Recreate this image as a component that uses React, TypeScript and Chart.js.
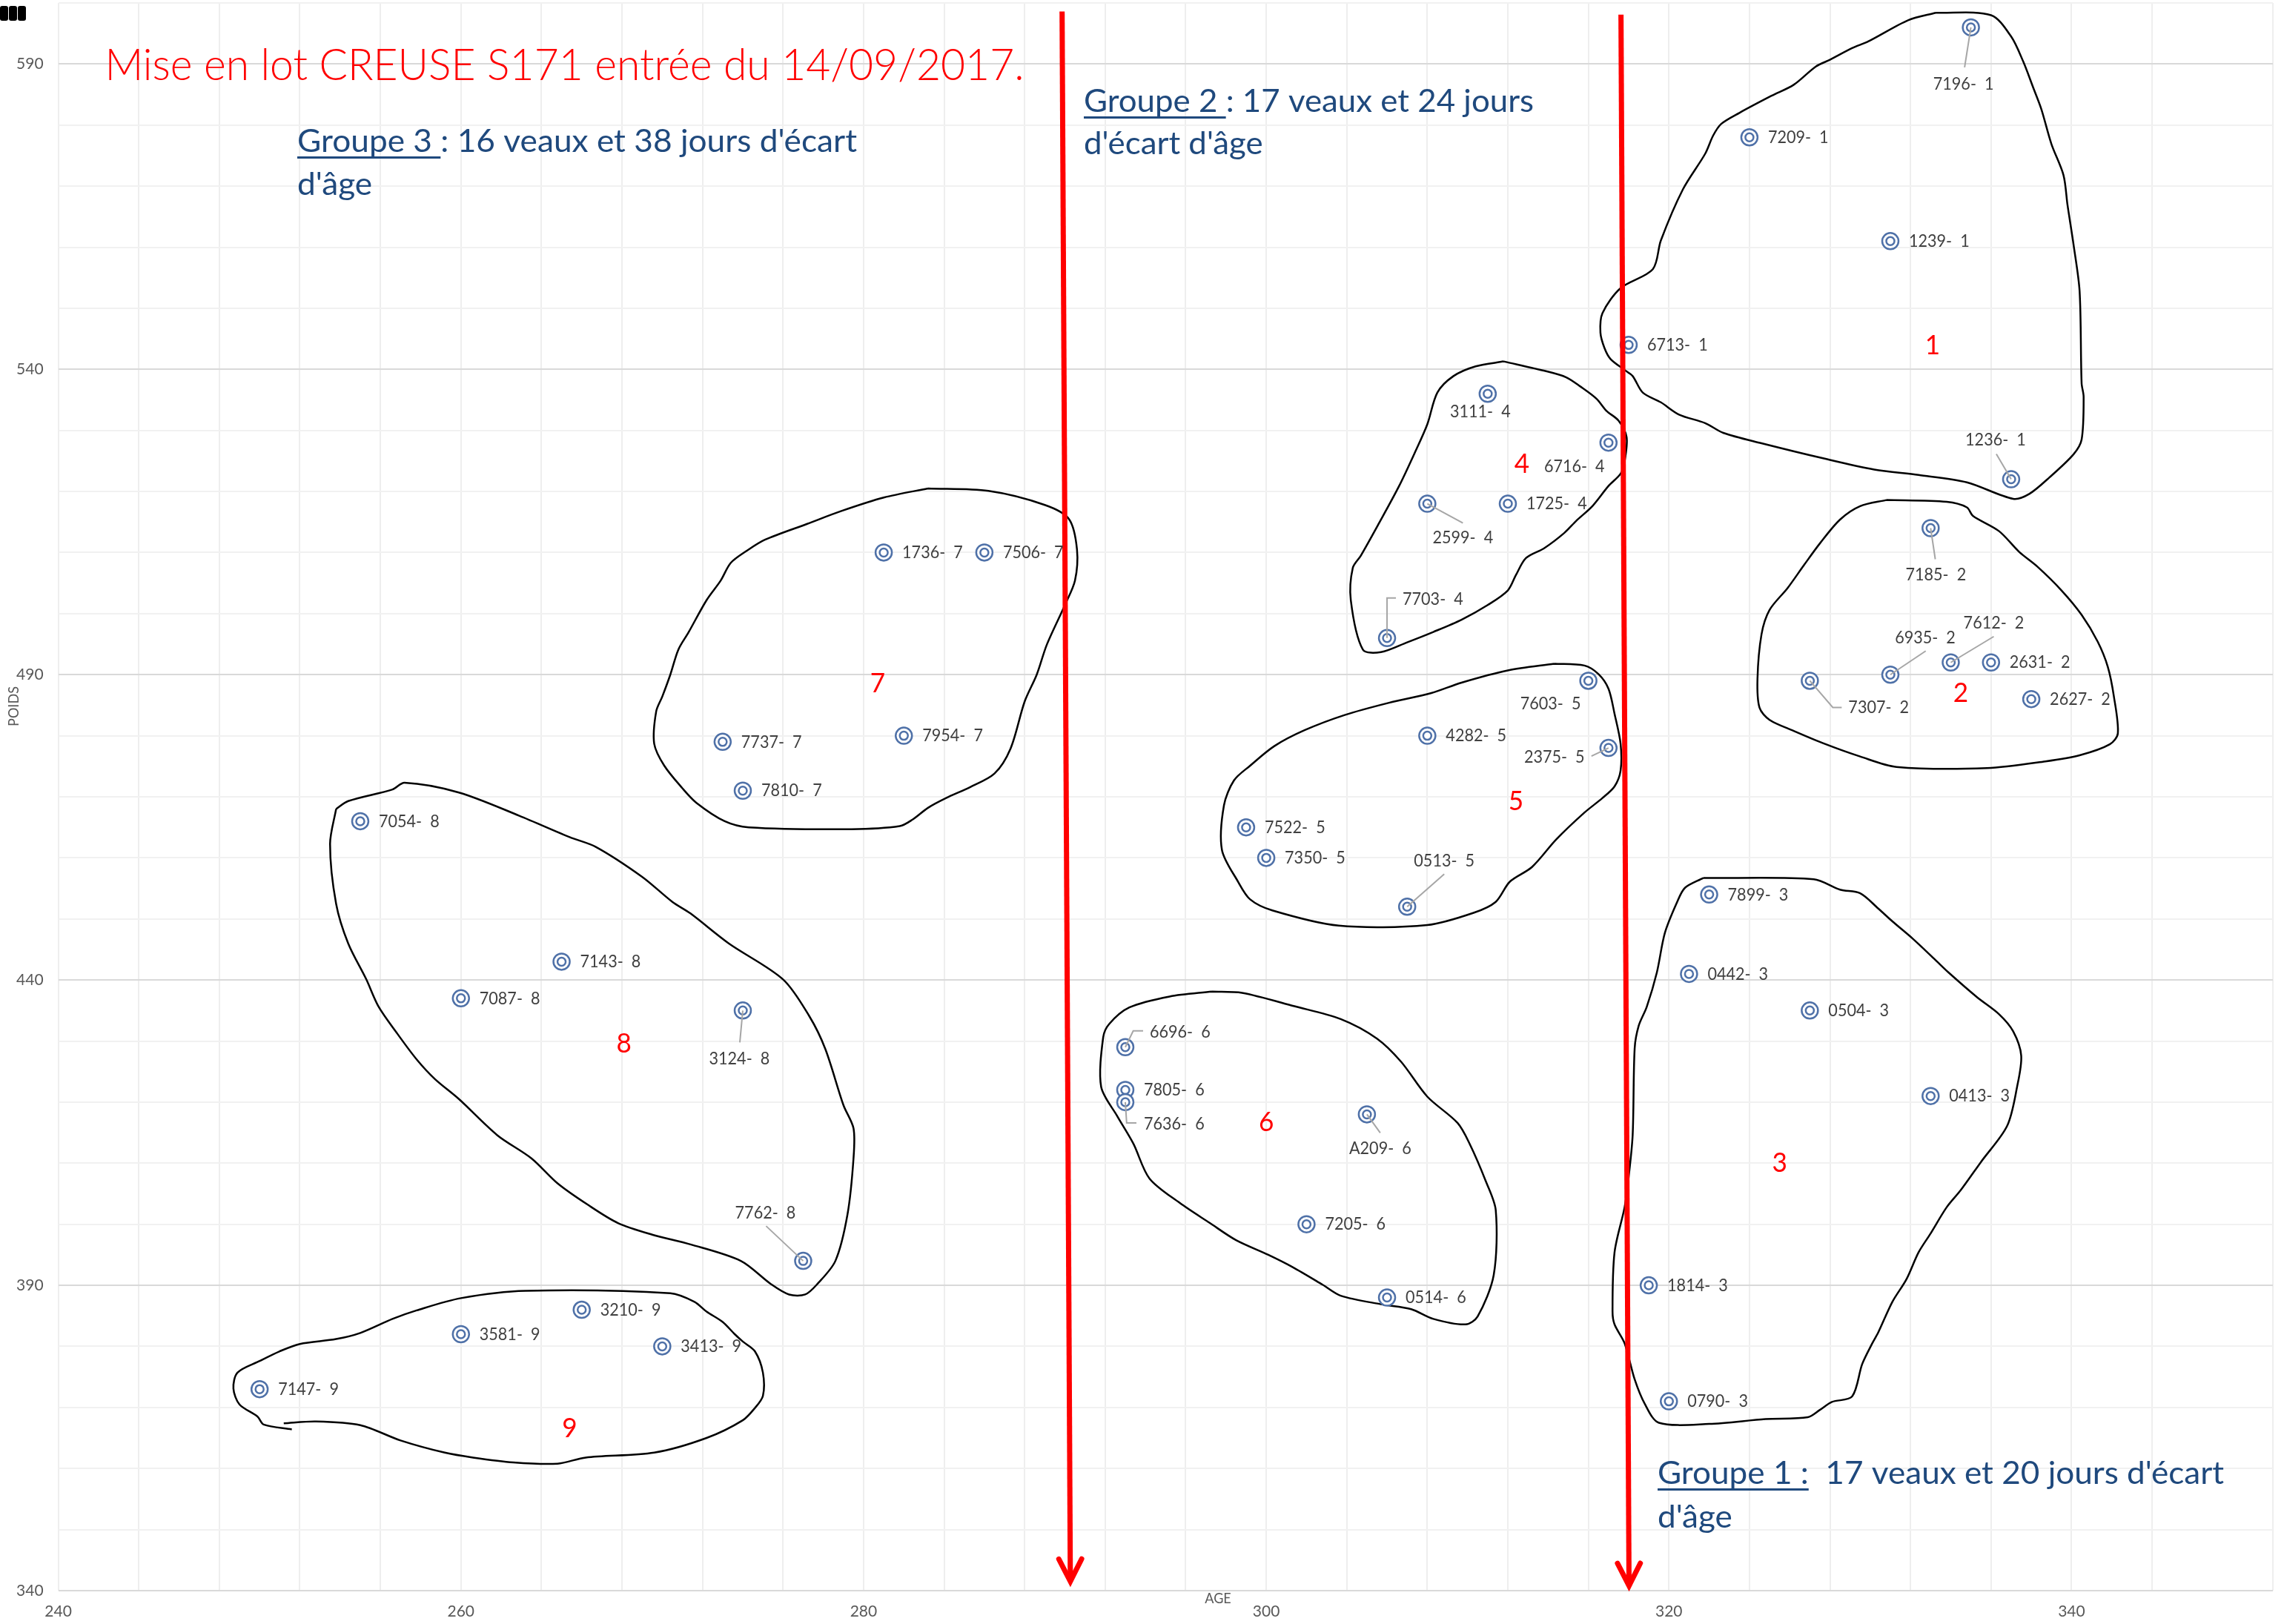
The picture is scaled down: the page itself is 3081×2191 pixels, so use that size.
import React, { useEffect, useRef } from 'react';
import { Chart, registerables } from 'chart.js';

Chart.register(...registerables);

// ---------------- data ----------------
const animalIds = [
  '7196', '7209', '1239', '6713', '1236',
  '7185', '6935', '7612', '2631', '2627', '7307',
  '7899', '0442', '0504', '0413', '1814', '0790',
  '3111', '6716', '1725', '2599', '7703',
  '7603', '4282', '2375', '7522', '7350', '0513',
  '6696', '7805', '7636', 'A209', '7205', '0514',
  '1736', '7506', '7737', '7954', '7810',
  '7054', '7143', '7087', '3124', '7762',
  '3210', '3581', '3413', '7147',
];
const animalLots = [
  1, 1, 1, 1, 1,
  2, 2, 2, 2, 2, 2,
  3, 3, 3, 3, 3, 3,
  4, 4, 4, 4, 4,
  5, 5, 5, 5, 5, 5,
  6, 6, 6, 6, 6, 6,
  7, 7, 7, 7, 7,
  8, 8, 8, 8, 8,
  9, 9, 9, 9,
];
const ages = [
  335, 324, 331, 318, 337,
  333, 331, 334, 336, 338, 327,
  322, 321, 327, 333, 319, 320,
  311, 317, 312, 308, 306,
  316, 308, 317, 299, 300, 307,
  293, 293, 293, 305, 302, 306,
  281, 286, 273, 282, 274,
  255, 265, 260, 274, 277,
  266, 260, 270, 250,
];
const poids = [
  596, 578, 561, 544, 522,
  514, 490, 492, 492, 486, 489,
  454, 441, 435, 421, 390, 371,
  536, 528, 518, 518, 496,
  489, 480, 478, 465, 460, 452,
  429, 422, 420, 418, 400, 388,
  510, 510, 479, 480, 471,
  466, 443, 437, 435, 394,
  386, 382, 380, 373,
];

const xTickLabels = [240, 260, 280, 300, 320, 340];
const yTickLabels = [340, 390, 440, 490, 540, 590];

// hand-drawn outlines of each lot, in (AGE, POIDS) units
const outlineLot1 = [[333.25, 598.4], [336.0, 598.0], [337.0, 594.5], [337.6, 590.4], [338.1, 586.1], [338.5, 582.6], [339.0, 576.9], [339.6, 571.8], [339.8, 566.9], [340.1, 560.4], [340.4, 552.8], [340.5, 537.7], [340.6, 535.5], [340.5, 528.5], [340.1, 526.1], [338.9, 522.3], [337.9, 519.6], [337.1, 518.8], [334.8, 521.5], [332.4, 522.7], [330.2, 523.6], [327.7, 525.4], [324.6, 527.9], [322.7, 529.6], [321.8, 531.2], [320.5, 532.6], [319.6, 534.6], [318.7, 536.2], [318.2, 538.9], [317.8, 539.9], [317.1, 541.7], [316.8, 543.5], [316.6, 546.0], [316.7, 549.2], [317.6, 553.3], [319.2, 556.4], [319.6, 561.1], [320.7, 569.5], [321.8, 575.3], [322.2, 578.3], [322.6, 580.2], [323.5, 582.0], [325.1, 584.8], [326.2, 586.6], [327.3, 589.6], [328.0, 590.7], [329.1, 592.6], [329.9, 593.7], [331.9, 597.2], [333.25, 598.4]];
const outlineLot2 = [[330.8, 518.6], [333.8, 518.3], [334.8, 517.4], [335.1, 516.0], [336.4, 513.5], [337.4, 510.1], [338.3, 507.7], [339.5, 503.8], [340.5, 499.8], [341.3, 495.4], [341.8, 491.3], [342.1, 486.5], [342.3, 480.4], [341.9, 478.6], [340.4, 476.8], [338.7, 475.8], [335.8, 474.7], [331.3, 474.9], [329.5, 476.6], [327.8, 478.6], [326.2, 480.8], [325.0, 482.6], [324.5, 484.6], [324.4, 489.3], [324.6, 496.6], [325.0, 500.6], [325.9, 504.2], [326.7, 507.9], [327.5, 511.5], [328.5, 515.4], [329.5, 517.6], [330.8, 518.6]];
const outlineLot3 = [[321.7, 456.7], [327.2, 456.5], [328.5, 454.8], [329.5, 454.2], [330.4, 451.7], [331.1, 449.6], [332.1, 446.8], [333.2, 443.4], [333.9, 441.2], [335.3, 437.2], [336.4, 434.4], [337.1, 431.6], [337.5, 427.6], [337.3, 422.6], [336.8, 416.1], [335.5, 410.2], [334.5, 405.6], [333.8, 402.8], [333.0, 398.5], [332.4, 395.4], [331.8, 391.0], [331.1, 387.3], [330.4, 382.3], [330.1, 380.5], [329.6, 377.1], [329.1, 371.8], [328.1, 370.9], [327.5, 369.6], [326.9, 368.4], [324.8, 368.1], [322.0, 367.3], [319.5, 367.5], [318.8, 370.6], [318.3, 374.6], [317.8, 380.5], [317.3, 383.6], [317.2, 385.7], [317.3, 395.4], [317.8, 402.8], [318.0, 407.7], [318.2, 414.6], [318.3, 428.8], [318.5, 432.5], [318.9, 435.6], [319.4, 441.2], [319.8, 447.7], [320.4, 452.7], [320.8, 455.1], [321.7, 456.7]];
const outlineLot4 = [[311.8, 541.3], [313.9, 539.7], [314.9, 538.7], [315.6, 537.2], [316.4, 535.2], [316.9, 533.2], [317.5, 531.6], [317.9, 528.9], [317.8, 524.9], [317.6, 522.9], [317.0, 520.9], [316.2, 517.6], [315.4, 515.2], [314.8, 513.2], [313.8, 510.7], [312.9, 509.1], [312.4, 506.3], [312.0, 503.8], [311.0, 501.4], [309.7, 499.0], [308.3, 497.0], [307.0, 495.3], [305.7, 493.7], [304.8, 494.1], [304.2, 502.2], [304.3, 507.5], [304.7, 509.5], [305.6, 514.8], [306.6, 520.9], [307.4, 526.5], [308.0, 531.0], [308.5, 536.2], [309.3, 538.9], [310.4, 540.5], [311.8, 541.3]];
const outlineLot5 = [[314.3, 491.8], [315.8, 491.5], [316.5, 490.1], [317.0, 487.7], [317.3, 483.6], [317.6, 478.7], [317.6, 474.3], [317.3, 471.7], [316.7, 469.8], [315.8, 467.4], [314.4, 463.0], [313.2, 458.5], [312.1, 456.1], [311.4, 452.8], [310.3, 451.0], [308.0, 449.0], [303.6, 448.9], [300.3, 451.4], [299.2, 453.2], [298.6, 456.1], [297.8, 461.3], [297.9, 468.6], [298.4, 472.7], [299.2, 475.1], [300.4, 478.3], [301.9, 480.9], [303.9, 483.4], [306.1, 485.4], [308.2, 487.0], [309.7, 488.7], [312.0, 490.7], [314.3, 491.8]];
const outlineLot6 = [[297.3, 438.1], [298.8, 437.9], [301.4, 435.7], [303.7, 433.6], [305.5, 430.4], [306.7, 426.6], [308.0, 420.9], [309.5, 416.6], [310.1, 413.2], [310.9, 407.1], [311.4, 402.3], [311.3, 391.7], [310.5, 384.9], [309.9, 383.6], [308.3, 384.5], [307.2, 386.1], [305.7, 386.9], [303.7, 388.3], [302.8, 390.1], [301.3, 393.0], [300.1, 395.0], [298.5, 397.4], [297.2, 400.2], [295.7, 403.5], [294.2, 407.5], [293.4, 413.2], [292.6, 417.7], [291.8, 422.5], [291.9, 430.6], [292.2, 432.8], [293.2, 435.5], [295.2, 437.3], [297.3, 438.1]];
const outlineLot7 = [[283.2, 520.5], [286.2, 520.1], [289.0, 517.8], [290.2, 515.5], [290.6, 510.5], [290.5, 505.4], [290.0, 501.4], [289.1, 494.9], [288.6, 490.0], [288.0, 485.6], [287.3, 477.9], [286.5, 473.8], [285.3, 471.6], [284.1, 469.8], [283.2, 468.2], [282.4, 466.2], [281.8, 465.2], [279.4, 464.7], [274.3, 465.0], [273.1, 466.0], [271.7, 469.0], [271.0, 471.4], [270.1, 475.1], [269.6, 478.7], [269.7, 484.0], [270.0, 486.4], [270.4, 490.0], [270.8, 494.1], [271.3, 496.9], [272.2, 502.2], [272.9, 505.4], [273.4, 508.3], [274.2, 510.3], [275.1, 512.1], [277.2, 514.7], [278.9, 516.8], [281.0, 519.0], [283.2, 520.5]];
const outlineLot8 = [[253.8, 468.0], [254.4, 469.3], [256.6, 471.2], [257.2, 472.3], [259.9, 470.7], [262.9, 466.9], [265.4, 463.4], [266.7, 461.8], [269.0, 456.9], [270.5, 452.8], [271.4, 450.9], [273.3, 446.0], [276.0, 440.1], [277.3, 434.1], [278.1, 428.7], [279.0, 419.5], [279.5, 415.7], [279.5, 410.8], [279.2, 401.6], [278.6, 394.0], [277.7, 390.2], [277.1, 388.5], [276.3, 388.5], [275.4, 390.2], [273.9, 394.0], [271.4, 396.7], [269.5, 398.3], [267.8, 400.2], [266.3, 403.2], [264.8, 406.7], [263.5, 410.8], [261.8, 414.6], [259.9, 420.5], [258.7, 423.8], [257.8, 427.0], [256.8, 431.4], [255.9, 435.7], [255.3, 440.1], [254.4, 446.0], [253.8, 452.5], [253.5, 462.3], [253.8, 468.0]];
const outlineLot9 = [[251.6, 366.4], [250.2, 367.2], [249.9, 368.5], [249.0, 370.5], [248.7, 373.1], [248.9, 375.7], [250.0, 377.6], [251.0, 379.2], [252.0, 380.4], [253.8, 381.2], [255.0, 382.2], [256.6, 384.5], [257.8, 385.9], [260.0, 387.9], [263.2, 389.1], [270.4, 388.7], [271.6, 387.3], [272.2, 385.7], [273.0, 384.0], [273.6, 382.0], [274.0, 380.8], [274.6, 379.2], [275.0, 375.7], [275.0, 371.9], [274.6, 369.9], [274.0, 367.9], [272.2, 365.0], [269.6, 362.6], [266.2, 361.8], [264.8, 360.8], [262.6, 361.0], [260.6, 361.8], [259.2, 362.6], [257.0, 364.6], [255.0, 367.1], [252.8, 367.7], [251.2, 367.4]];

// red separation arrows (AGE, POIDS) from start to tip
const arrowGroupe3 = [[289.86, 598.6], [290.27, 341.5]];
const arrowGroupe2 = [[317.62, 598.1], [318.02, 340.8]];

// red lot numbers
const lotNumbers = ['1', '2', '3', '4', '5', '6', '7', '8', '9'];
const lotNumberAge = [333.1, 334.5, 325.5, 312.7, 312.4, 300.0, 280.7, 268.1, 265.4];
const lotNumberPoids = [543.9, 487.0, 410.0, 524.5, 469.3, 416.7, 488.6, 429.6, 366.6];

// ---------------- layout / style (not data) ----------------
const FONT = 'Lato, "Open Sans", sans-serif';
const MARKER = '#4f71a8';

type LabelLayout = { dx: number; dy: number; align: 'left' | 'center'; leader?: number[][] };
const defaultLabel: LabelLayout = { dx: 25, dy: 0, align: 'left' };
const labelLayout: Record<string, LabelLayout> = {
  '7196': { dx: -10, dy: 76, align: 'center', leader: [[-8.5, 54]] },
  '1236': { dx: -21, dy: -53, align: 'center', leader: [[-20, -34]] },
  '3111': { dx: -10, dy: 24, align: 'center' },
  '6716': { dx: -46, dy: 32, align: 'center' },
  '2599': { dx: 48, dy: 46, align: 'center', leader: [[48, 26]] },
  '7703': { dx: 21, dy: -53, align: 'left', leader: [[0, -54], [12, -54]] },
  '7185': { dx: 7, dy: 63, align: 'center', leader: [[6.3, 42]] },
  '6935': { dx: 47, dy: -50, align: 'center', leader: [[47.7, -32]] },
  '7612': { dx: 58, dy: -53, align: 'center', leader: [[58, -35]] },
  '7307': { dx: 52, dy: 36, align: 'left', leader: [[31, 36], [43, 36]] },
  '7603': { dx: -51, dy: 31, align: 'center' },
  '2375': { dx: -73, dy: 12, align: 'center', leader: [[-23, 11]] },
  '0513': { dx: 50, dy: -62, align: 'center', leader: [[50, -44]] },
  '6696': { dx: 33, dy: -21, align: 'left', leader: [[10.7, -22], [24, -22]] },
  '7636': { dx: 25, dy: 29, align: 'left', leader: [[1.8, 28], [15, 28]] },
  'A209': { dx: 18, dy: 46, align: 'center', leader: [[18, 25]] },
  '3124': { dx: -4.6, dy: 65, align: 'center', leader: [[-4, 43]] },
  '7762': { dx: -51, dy: -65, align: 'center', leader: [[-50, -47]] },
};

type TextBlock = { lines: string[]; underline?: string; x: number; y: number; lineHeight: number; width: number; size: number; weight: string; color: string };
const textBlocks: TextBlock[] = [
  { lines: ['Mise en lot CREUSE S171 entrée du 14/09/2017.'], x: 141.5, y: 108, lineHeight: 0, width: 1240, size: 60, weight: '300', color: '#ff0000' },
  { lines: ["Groupe 3 : 16 veaux et 38 jours d'écart", "d'âge"], underline: 'Groupe 3 ', x: 401, y: 205, lineHeight: 58, width: 755, size: 43, weight: '400', color: '#1f497d' },
  { lines: ['Groupe 2 : 17 veaux et 24 jours', "d'écart d'âge"], underline: 'Groupe 2 ', x: 1462, y: 151, lineHeight: 57, width: 607, size: 43, weight: '400', color: '#1f497d' },
  { lines: ["Groupe 1 :  17 veaux et 20 jours d'écart", "d'âge"], underline: 'Groupe 1 :', x: 2236, y: 2002, lineHeight: 59, width: 764, size: 43, weight: '400', color: '#1f497d' },
];

function drawScaledText(ctx: CanvasRenderingContext2D, text: string, x: number, y: number, font: string, color: string, align: string, scaleX: number, baseline: CanvasTextBaseline) {
  ctx.save();
  ctx.font = font;
  ctx.fillStyle = color;
  ctx.textBaseline = baseline;
  ctx.textAlign = 'left';
  const w = ctx.measureText(text).width * scaleX;
  const x0 = align === 'center' ? x - w / 2 : align === 'right' ? x - w : x;
  ctx.translate(x0, y);
  ctx.scale(scaleX, 1);
  ctx.fillText(text, 0, 0);
  ctx.restore();
}

const overlayPlugin = {
  id: 'overlay',
  afterDatasetsDraw(chart: any) {
    const ctx: CanvasRenderingContext2D = chart.ctx;
    const xs = chart.scales.x;
    const ys = chart.scales.y;

    // arrow heads
    [arrowGroupe3, arrowGroupe2].forEach((arr) => {
      const a = arr[arr.length - 2];
      const b = arr[arr.length - 1];
      const ax = xs.getPixelForValue(a[0]), ay = ys.getPixelForValue(a[1]);
      const bx = xs.getPixelForValue(b[0]), by = ys.getPixelForValue(b[1]);
      const ang = Math.atan2(by - ay, bx - ax);
      const len = 34, spread = 0.47;
      ctx.save();
      ctx.strokeStyle = '#ff0000';
      ctx.lineWidth = 7;
      ctx.lineJoin = 'miter';
      ctx.lineCap = 'round';
      ctx.beginPath();
      ctx.moveTo(bx - len * Math.cos(ang - spread), by - len * Math.sin(ang - spread));
      ctx.lineTo(bx, by);
      ctx.lineTo(bx - len * Math.cos(ang + spread), by - len * Math.sin(ang + spread));
      ctx.stroke();
      ctx.restore();
    });

    // point labels + leader lines
    const labelFont = `400 24px ${FONT}`;
    animalIds.forEach((id, i) => {
      const px = xs.getPixelForValue(ages[i]);
      const py = ys.getPixelForValue(poids[i]);
      const lay = labelLayout[id] || defaultLabel;
      if (lay.leader) {
        ctx.save();
        ctx.strokeStyle = '#a6a6a6';
        ctx.lineWidth = 2;
        ctx.beginPath();
        ctx.moveTo(px, py);
        lay.leader.forEach(([dx, dy]) => ctx.lineTo(px + dx, py + dy));
        ctx.stroke();
        ctx.restore();
      }
      drawScaledText(ctx, `${id}-  ${animalLots[i]}`, px + lay.dx, py + lay.dy, labelFont, '#404040', lay.align, 0.9, 'middle');
    });

    // red lot numbers
    lotNumbers.forEach((n, i) => {
      drawScaledText(ctx, n, xs.getPixelForValue(lotNumberAge[i]), ys.getPixelForValue(lotNumberPoids[i]), `400 37px ${FONT}`, '#ff0000', 'center', 0.95, 'middle');
    });

    // text blocks
    textBlocks.forEach((b) => {
      const font = `${b.weight} ${b.size}px ${FONT}`;
      ctx.save();
      ctx.font = font;
      const sx = b.width / ctx.measureText(b.lines[0]).width;
      b.lines.forEach((line, k) => drawScaledText(ctx, line, b.x, b.y + k * b.lineHeight, font, b.color, 'left', sx, 'alphabetic'));
      if (b.underline) {
        ctx.font = font;
        const uw = ctx.measureText(b.underline).width * sx;
        ctx.fillStyle = b.color;
        ctx.fillRect(b.x, b.y + 6, uw, 3);
      }
      ctx.restore();
    });
  },
  afterDraw(chart: any) {
    const ctx: CanvasRenderingContext2D = chart.ctx;
    // axis titles
    drawScaledText(ctx, 'AGE', 1643, 2157, `400 19px ${FONT}`, '#595959', 'center', 0.95, 'middle');
    ctx.save();
    ctx.translate(19, 953);
    ctx.rotate(-Math.PI / 2);
    drawScaledText(ctx, 'POIDS', 0, 0, `400 19px ${FONT}`, '#595959', 'center', 0.95, 'middle');
    ctx.restore();
    // cut-off legend marks top-left
    ctx.save();
    ctx.fillStyle = '#000';
    [0, 12, 24].forEach((x0) => {
      ctx.beginPath();
      (ctx as any).roundRect ? (ctx as any).roundRect(x0, 8, 11, 20, 3) : ctx.rect(x0, 8, 11, 20);
      ctx.fill();
    });
    ctx.restore();
  },
};

export default function App() {
  const ref = useRef<HTMLCanvasElement | null>(null);

  useEffect(() => {
    document.body.style.margin = '0';
    const canvas = ref.current;
    if (!canvas) return;

    const points = ages.map((a, i) => ({ x: a, y: poids[i] }));
    const outlines = [outlineLot1, outlineLot2, outlineLot3, outlineLot4, outlineLot5, outlineLot6, outlineLot7, outlineLot8, outlineLot9];

    const datasets: any[] = [
      {
        label: 'inner', data: points, order: 0, showLine: false,
        pointRadius: 5.5, pointBorderWidth: 2.5, pointBorderColor: MARKER, pointBackgroundColor: 'rgba(0,0,0,0)', pointHoverRadius: 5.5,
      },
      {
        label: 'outer', data: points, order: 1, showLine: false,
        pointRadius: 11, pointBorderWidth: 2.5, pointBorderColor: MARKER, pointBackgroundColor: '#ffffff', pointHoverRadius: 11,
      },
      ...outlines.map((o, k) => ({
        label: `lot${k + 1}`, data: o.map(([x, y]) => ({ x, y })), order: 2, showLine: true,
        borderColor: '#000000', borderWidth: 2.5, pointRadius: 0, pointHoverRadius: 0, tension: 0.3, fill: false,
      })),
      ...[arrowGroupe3, arrowGroupe2].map((a, k) => ({
        label: `arrow${k}`, data: a.map(([x, y]) => ({ x, y })), order: -1, showLine: true,
        borderColor: '#ff0000', borderWidth: 7, pointRadius: 0, pointHoverRadius: 0, tension: 0, fill: false,
      })),
    ];

    const chart = new Chart(canvas, {
      type: 'scatter',
      data: { datasets },
      options: {
        animation: false,
        responsive: false,
        devicePixelRatio: 1,
        events: [],
        layout: { autoPadding: false, padding: { top: 4, right: 15, left: 0, bottom: 0 } },
        plugins: { legend: { display: false }, tooltip: { enabled: false } },
        scales: {
          x: {
            type: 'linear', min: 240, max: 350,
            border: { display: false },
            grid: { color: '#eeeeee', lineWidth: 2, drawTicks: false },
            ticks: {
              stepSize: 4, autoSkip: false, maxRotation: 0, padding: 16,
              color: '#595959', font: { family: FONT, size: 21 },
              callback: (v: any) => (xTickLabels.includes(Number(v)) ? String(v) : ''),
            },
            afterFit: (s: any) => { s.height = 45; s.paddingLeft = 0; s.paddingRight = 0; s.paddingTop = 0; s.paddingBottom = 0; },
          },
          y: {
            type: 'linear', min: 340, max: 600,
            border: { display: false },
            grid: {
              color: (c: any) => (yTickLabels.includes(c.tick.value) ? '#d9d9d9' : '#f1f1f1'),
              lineWidth: 2, drawTicks: false,
            },
            ticks: {
              stepSize: 10, autoSkip: false, padding: 20,
              color: '#595959', font: { family: FONT, size: 21 },
              callback: (v: any) => (yTickLabels.includes(Number(v)) ? String(v) : ''),
            },
            afterFit: (s: any) => { s.width = 78.6; s.paddingTop = 0; s.paddingBottom = 0; s.paddingLeft = 0; s.paddingRight = 0; },
          },
        },
      },
      plugins: [overlayPlugin],
    });

    return () => chart.destroy();
  }, []);

  return (
    <div style={{ position: 'fixed', left: 0, top: 0, width: 3081, height: 2191, background: '#ffffff' }}>
      <canvas ref={ref} width={3081} height={2191} style={{ display: 'block', width: 3081, height: 2191 }} />
    </div>
  );
}
